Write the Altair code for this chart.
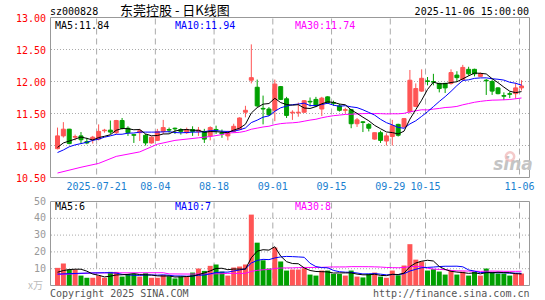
import altair as alt
import pandas as pd

# ---------------- data ----------------
opens = [10.95, 11.15, 11.255, 11.13, 11.15, 11.06, 11.09, 11.10, 11.23, 11.24,
         11.20, 11.39, 11.27, 11.17, 11.20, 11.16, 11.04, 11.08, 11.22, 11.25,
         11.27, 11.25, 11.20, 11.25, 11.22, 11.22, 11.15, 11.25, 11.20, 11.15,
         11.22, 11.25, 11.52, 12.02, 11.91, 11.58, 11.57, 11.55, 11.92, 11.73,
         11.51, 11.51, 11.52, 11.69, 11.72, 11.57, 11.76, 11.67, 11.62, 11.55,
         11.56, 11.34, 11.37, 11.33, 11.10, 11.20, 11.07, 11.14, 11.33, 11.29,
         11.53, 11.61, 11.85, 12.01, 12.00, 11.97, 11.97, 11.97, 12.10, 12.03,
         12.19, 12.19, 12.08, 12.02, 12.00, 11.90, 11.78, 11.81, 11.81, 11.90]
highs = [11.28, 11.365, 11.26, 11.17, 11.21, 11.12, 11.15, 11.33, 11.26, 11.39,
         11.40, 11.43, 11.30, 11.17, 11.26, 11.18, 11.14, 11.26, 11.40, 11.28,
         11.28, 11.27, 11.28, 11.30, 11.29, 11.26, 11.30, 11.31, 11.25, 11.23,
         11.34, 11.44, 11.62, 12.58, 12.03, 11.78, 11.60, 12.03, 11.93, 11.76,
         11.55, 11.67, 11.71, 11.75, 11.76, 11.76, 11.77, 11.70, 11.65, 11.59,
         11.57, 11.43, 11.38, 11.35, 11.20, 11.23, 11.19, 11.40, 11.34, 11.43,
         12.18, 11.97, 12.19, 12.07, 12.12, 11.98, 11.98, 12.19, 12.16, 12.26,
         12.23, 12.20, 12.14, 12.04, 12.03, 11.91, 11.83, 11.84, 11.98, 12.02]
lows = [10.94, 11.125, 11.02, 11.08, 11.03, 11.02, 11.03, 11.08, 11.20, 11.18,
        11.18, 11.25, 11.15, 11.04, 11.07, 11.00, 11.03, 11.07, 11.18, 11.20,
        11.18, 11.17, 11.18, 11.15, 11.15, 11.04, 11.08, 11.18, 11.12, 11.08,
        11.20, 11.24, 11.44, 11.97, 11.60, 11.33, 11.46, 11.38, 11.71, 11.43,
        11.40, 11.45, 11.51, 11.61, 11.60, 11.46, 11.65, 11.62, 11.53, 11.50,
        11.27, 11.29, 11.21, 11.22, 11.09, 11.04, 11.00, 11.00, 11.14, 11.28,
        11.50, 11.60, 11.84, 11.94, 11.94, 11.83, 11.82, 11.95, 12.00, 12.02,
        12.09, 12.08, 12.07, 11.79, 11.79, 11.80, 11.71, 11.74, 11.73, 11.86]
closes = [11.15, 11.255, 11.03, 11.14, 11.09, 11.04, 11.13, 11.22, 11.24, 11.21,
          11.39, 11.27, 11.20, 11.16, 11.23, 11.04, 11.13, 11.22, 11.28, 11.24,
          11.26, 11.22, 11.25, 11.22, 11.24, 11.10, 11.28, 11.24, 11.18, 11.20,
          11.30, 11.43, 11.55, 12.06, 11.62, 11.57, 11.48, 11.96, 11.72, 11.47,
          11.52, 11.52, 11.70, 11.68, 11.62, 11.74, 11.67, 11.66, 11.55, 11.56,
          11.34, 11.40, 11.36, 11.27, 11.20, 11.08, 11.15, 11.31, 11.16, 11.42,
          12.02, 11.89, 12.05, 12.00, 11.99, 11.89, 11.90, 12.14, 12.06, 12.22,
          12.12, 12.12, 12.12, 12.01, 11.85, 11.81, 11.77, 11.80, 11.90, 11.93]
volumes = [10.5, 13.1, 9.5, 9.5, 5.9, 4.6, 4.6, 5.9, 4.6, 8.1,
           8.1, 5.3, 6.9, 6.9, 5.3, 7.3, 4.6, 4.6, 6.3, 5.5,
           4.2, 5.3, 5.3, 7.7, 10.1, 8.7, 11.7, 12.5, 8.3, 5.9,
           10.7, 11.3, 12.5, 42.2, 25.5, 15.0, 10.1, 22.6, 14.3, 8.9,
           9.5, 9.5, 10.3, 6.5, 5.9, 8.9, 8.9, 6.9, 6.9, 5.9,
           8.9, 5.3, 4.8, 6.9, 7.7, 5.3, 4.6, 8.9, 6.1, 11.9,
           24.6, 15.4, 14.3, 8.9, 9.7, 8.3, 6.5, 8.9, 6.5, 8.3,
           5.9, 8.1, 5.9, 10.1, 8.1, 7.1, 7.1, 5.9, 7.1, 7.1]

# moving-average values at the left edge (their windows start before the visible range)
ma5_head = [10.97, 11.04, 11.07, 11.10]                      # i = 0..3
ma10_head_idx = [0, 1, 2, 3, 4, 5, 6, 7, 8]
ma10_head = [10.89, 10.93, 10.98, 11.01, 11.03, 11.05, 11.08, 11.10, 11.13]
ma30_head_idx = [0, 4, 7, 10, 14, 17, 20, 24, 26, 28]
ma30_head = [10.57, 10.66, 10.72, 10.83, 10.90, 11.02, 11.08, 11.12, 11.14, 11.17]
vma5_head = [7.9, 8.9, 9.5, 9.7]
vma10_head_idx = [0, 4, 8]
vma10_head = [6.8, 7.3, 7.6]
vma30_head_idx = [0, 1, 6, 18, 19, 23, 28]
vma30_head = [6.6, 6.6, 7.5, 7.6, 6.9, 6.8, 7.0]

date_idx = [7, 17, 27, 37, 47, 57, 63, 79]
date_labels = ["2025-07-21", "08-04", "08-18", "09-01", "09-15", "09-29", "10-15", "11-06"]
price_ticks = [13.0, 12.5, 12.0, 11.5, 11.0, 10.5]
price_grid = [12.5, 12.0, 11.5, 11.0]
vol_ticks = [50, 40, 30, 20, 10]
vol_grid = [40, 30, 20, 10]

# ---------------- styling ----------------
RED = "#ff5555"
GREEN = "#00a000"
GRID = "#aaaaaa"
BORDER = "#999999"
MONO = "DejaVu Sans Mono"
CJK = "Noto Sans CJK SC"

N = len(closes)
idx = list(range(N))
X_SCALE = alt.Scale(domain=[0, N - 1], range=[2.5, 476.5])
P_SCALE = alt.Scale(domain=[10.5, 13.0], range=[160, 0], zero=False, nice=False)
V_SCALE = alt.Scale(domain=[0, 50], range=[268, 184], zero=False, nice=False)

kd = pd.DataFrame({"i": idx, "o": opens, "h": highs, "l": lows, "c": closes,
                   "v": volumes, "z": [0] * N})
up = alt.datum.c >= alt.datum.o
colr = alt.when(up).then(alt.value(RED)).otherwise(alt.value(GREEN))

X = alt.X("i:Q", scale=X_SCALE, axis=None)


def ma_frame(vals, n, head_idx, head_vals):
    rows = [{"i": a, "v": b} for a, b in zip(head_idx, head_vals)]
    for k in range(n - 1, len(vals)):
        rows.append({"i": k, "v": sum(vals[k - n + 1:k + 1]) / n})
    return pd.DataFrame(rows)


def txt(s, x, y, color, align="left", size=10, font=MONO, **kw):
    return alt.Chart(pd.DataFrame({"t": [s]})).mark_text(
        align=align, baseline="alphabetic", color=color, fontSize=size, font=font, **kw
    ).encode(x=alt.value(x), y=alt.value(y), text="t:N")


layers = []

# frames
frames = pd.DataFrame({"a": [13.0], "b": [10.5]})
layers.append(alt.Chart(frames).mark_rect(filled=False, stroke=BORDER, strokeWidth=1).encode(
    x=alt.value(0.5), x2=alt.value(479.5),
    y=alt.Y("a:Q", scale=P_SCALE, axis=None), y2="b:Q"))
vframes = pd.DataFrame({"a": [50], "b": [0]})
layers.append(alt.Chart(vframes).mark_rect(filled=False, stroke=BORDER, strokeWidth=1).encode(
    x=alt.value(0.5), x2=alt.value(479.5),
    y=alt.Y("a:Q", scale=V_SCALE, axis=None), y2="b:Q"))

# horizontal dotted grid
layers.append(alt.Chart(pd.DataFrame({"p": price_grid})).mark_rule(
    color=GRID, strokeDash=[1, 2], strokeWidth=1).encode(
    x=alt.value(1), x2=alt.value(479), y=alt.Y("p:Q", scale=P_SCALE, axis=None)))
layers.append(alt.Chart(pd.DataFrame({"p": vol_grid})).mark_rule(
    color=GRID, strokeDash=[1, 2], strokeWidth=1).encode(
    x=alt.value(1), x2=alt.value(479), y=alt.Y("p:Q", scale=V_SCALE, axis=None)))

# vertical dashed date lines
dd = pd.DataFrame({"i": date_idx, "lab": date_labels})
layers.append(alt.Chart(dd).mark_rule(color=GRID, strokeDash=[6, 4], strokeWidth=1, xOffset=-2).encode(
    x=X, y=alt.value(1), y2=alt.value(160)))
layers.append(alt.Chart(dd).mark_rule(color=GRID, strokeDash=[6, 4], strokeWidth=1, xOffset=-2).encode(
    x=X, y=alt.value(185), y2=alt.value(268)))

# candles
layers.append(alt.Chart(kd).mark_rule(strokeWidth=1).encode(
    x=X, y=alt.Y("l:Q", scale=P_SCALE, axis=None), y2="h:Q", color=colr))
layers.append(alt.Chart(kd).mark_bar(size=4, strokeWidth=1).encode(
    x=X, y=alt.Y("o:Q", scale=P_SCALE, axis=None), y2="c:Q", fill=colr, stroke=colr))

# volume bars
layers.append(alt.Chart(kd).mark_bar(size=5).encode(
    x=X, y=alt.Y("v:Q", scale=V_SCALE, axis=None), y2="z:Q", fill=colr))

# moving averages
for frame, col in [(ma_frame(closes, 30, ma30_head_idx, ma30_head), "#ff00ff"),
                   (ma_frame(closes, 10, ma10_head_idx, ma10_head), "#0000ff"),
                   (ma_frame(closes, 5, list(range(4)), ma5_head), "#000000")]:
    layers.append(alt.Chart(frame).mark_line(color=col, strokeWidth=1).encode(
        x=X, y=alt.Y("v:Q", scale=P_SCALE, axis=None)))
for frame, col in [(ma_frame(volumes, 30, vma30_head_idx, vma30_head), "#ff00ff"),
                   (ma_frame(volumes, 10, vma10_head_idx, vma10_head), "#0000ff"),
                   (ma_frame(volumes, 5, list(range(4)), vma5_head), "#000000")]:
    layers.append(alt.Chart(frame).mark_line(color=col, strokeWidth=1).encode(
        x=X, y=alt.Y("v:Q", scale=V_SCALE, axis=None)))

# tick labels
layers.append(alt.Chart(pd.DataFrame({"p": price_ticks})).mark_text(
    align="right", baseline="middle", dy=1.5, color="#ff0000", font=MONO, fontSize=10).encode(
    x=alt.value(-4), y=alt.Y("p:Q", scale=P_SCALE, axis=None), text=alt.Text("p:Q", format=".2f")))
layers.append(alt.Chart(pd.DataFrame({"p": vol_ticks})).mark_text(
    align="right", baseline="middle", dy=0, color="#999999", font=MONO, fontSize=10).encode(
    x=alt.value(-4), y=alt.Y("p:Q", scale=V_SCALE, axis=None), text="p:Q"))
layers.append(alt.Chart(dd).mark_text(
    align="center", baseline="alphabetic", dx=-2, color="#1a7fd0", font=MONO, fontSize=10).encode(
    x=X, y=alt.value(172), text="lab:N"))

# titles and legends
layers += [
    txt("sz000828", 0, -3, "#000000"),
    txt("东莞控股 - 日K线图", 70, -3, "#000000", size=13, font=CJK),
    txt("2025-11-06 15:00:00", 479, -2.5, "#000000", align="right"),
    txt("MA5:11.84", 5, 11, "#000000"),
    txt("MA10:11.94", 125, 11, "#0000ff"),
    txt("MA30:11.74", 245, 11, "#ff00ff"),
    txt("MA5:6", 5, 192.5, "#000000"),
    txt("MA10:7", 125, 192.5, "#0000ff"),
    txt("MA30:8", 245, 192.5, "#ff00ff"),
    txt("x万", -7, 271.5, "#bbbbbb", align="right", size=10, font=CJK),
    txt("Copyright 2025 SINA.COM", 0, 279, "#555555"),
    txt("http://finance.sina.com.cn", 479.5, 279, "#555555", align="right"),
    txt("sina", 463, 152, "#c4c4c4", align="center", size=17, font="DejaVu Sans",
        fontStyle="italic", fontWeight="bold"),
]
layers.append(alt.Chart(pd.DataFrame({"t": [0]})).mark_point(
    shape="circle", size=70, filled=False, stroke="#f0b4b4", strokeWidth=2.5).encode(
    x=alt.value(460), y=alt.value(139)))

chart = alt.layer(*layers).resolve_scale(y="independent").properties(
    width=480, height=282,
    autosize=alt.AutoSizeParams(type="none"),
    padding={"left": 50, "top": 17.5, "right": 15, "bottom": 0.5},
    background="#ffffff",
).configure_view(stroke=None)

chart.save("out.html", embed_options={"renderer": "svg", "actions": False})
